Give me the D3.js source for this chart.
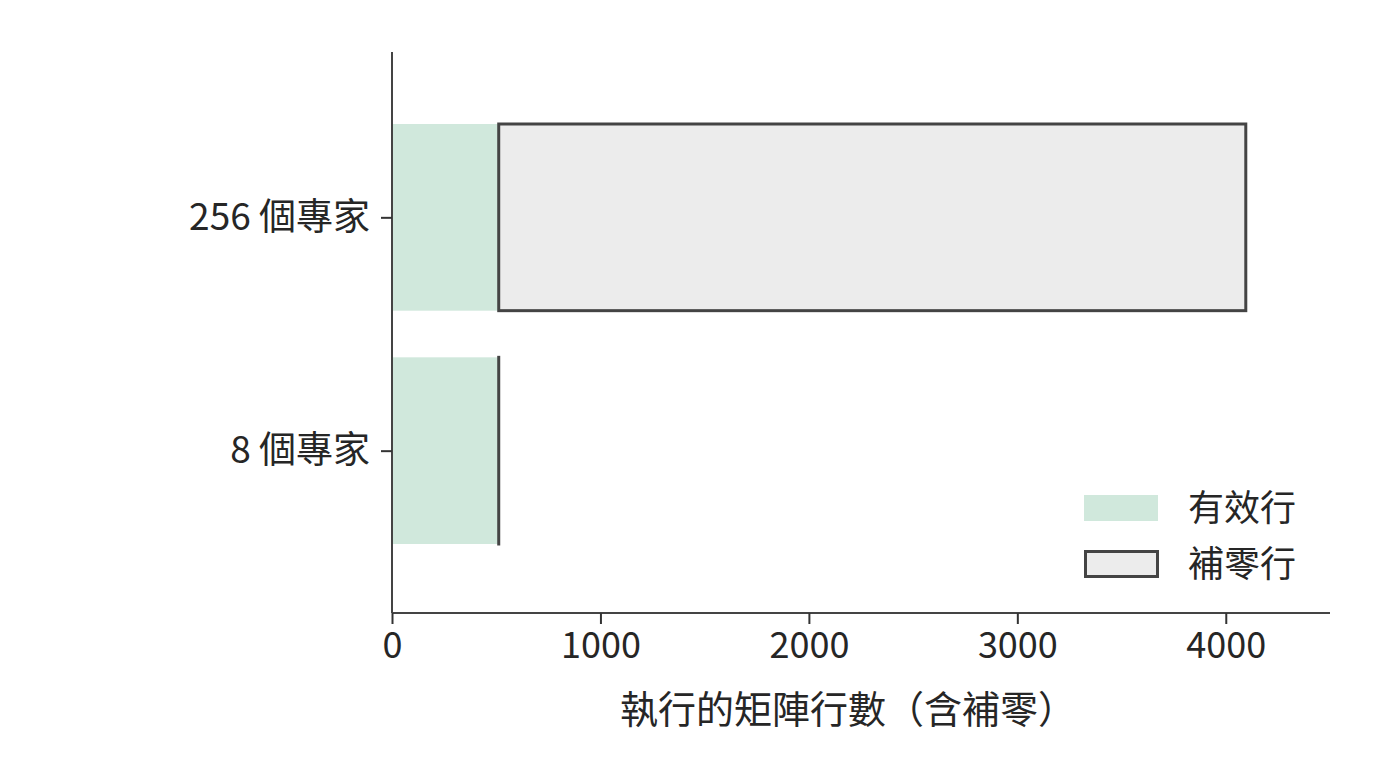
<!DOCTYPE html>
<html>
<head>
<meta charset="utf-8">
<script src="https://cdn.jsdelivr.net/npm/d3@7"></script>
<style>
  body { margin: 0; background: #fff; }
  text { font-family: "Noto Sans CJK TC", "Noto Sans", sans-serif; fill: #262626; }
</style>
</head>
<body>
<svg width="1400" height="768"></svg>
<script>
// data
var categories = ["8 個專家", "256 個專家"];
var effectiveRows = [512, 512];
var paddingRows = [0, 3584];
var xTicks = [0, 1000, 2000, 3000, 4000];
var legendLabels = ["有效行", "補零行"];
var xLabel = "執行的矩陣行數（含補零）";

var plotLeft = 392, plotRight = 1330, plotTop = 52, plotBottom = 613;
var svg = d3.select("svg");

var x = d3.scaleLinear().domain([0, 4500]).range([plotLeft, plotRight]);
var y = d3.scaleLinear().domain([-0.7, 1.7]).range([614, 54]);
var barH = y(0) - y(0.8);

var rows = categories.map(function (c, i) {
  return { name: c, idx: i, eff: effectiveRows[i], pad: paddingRows[i] };
});

// effective bars
svg.append("g").selectAll("rect")
  .data(rows)
  .enter()
  .append("rect")
  .attr("x", x(0))
  .attr("y", function (d) { return y(d.idx) - barH / 2; })
  .attr("width", function (d) { return x(d.eff) - x(0); })
  .attr("height", barH)
  .style("fill", "#d0e8dc");

// padding bars (zero width still shows its edge)
svg.append("g").selectAll("rect")
  .data(rows)
  .enter()
  .append("rect")
  .attr("x", function (d) { return x(d.eff); })
  .attr("y", function (d) { return y(d.idx) - barH / 2; })
  .attr("width", function (d) { return Math.max(x(d.eff + d.pad) - x(d.eff), 0.01); })
  .attr("height", barH)
  .style("fill", "#ececec")
  .style("stroke", "#444")
  .style("stroke-width", 3);

// axes
var xAxis = d3.axisBottom(x).tickValues(xTicks).tickFormat(d3.format("d"))
  .tickSizeOuter(0).tickSize(11).tickPadding(8);
var yAxis = d3.axisLeft(y).tickValues([0, 1])
  .tickFormat(function (d) { return categories[d]; })
  .tickSizeOuter(0).tickSize(11).tickPadding(11);

var gx = svg.append("g")
  .attr("transform", "translate(0," + plotBottom + ")")
  .call(xAxis);
var gy = svg.append("g")
  .attr("transform", "translate(" + plotLeft + ",0)")
  .call(yAxis);

[gx, gy].forEach(function (g) {
  g.select(".domain").style("stroke", "#444").style("stroke-width", 2);
  g.selectAll(".tick line").style("stroke", "#333").style("stroke-width", 2);
  g.selectAll(".tick text").style("font-size", "36px").style("fill", "#262626");
});
gy.selectAll(".tick text").style("font-size", "37px");
gy.select(".domain").attr("d", "M0," + plotBottom + "V" + plotTop);
gx.select(".domain").attr("d", "M" + plotLeft + ",0H" + plotRight);

svg.append("text")
  .attr("x", 848)
  .attr("y", 723)
  .attr("text-anchor", "middle")
  .style("font-size", "38px")
  .text(xLabel);

// legend
var legend = svg.append("g").attr("transform", "translate(1084,495)");
legend.append("rect")
  .attr("x", 0).attr("y", 0).attr("width", 74).attr("height", 26)
  .style("fill", "#d0e8dc");
legend.append("rect")
  .attr("x", 1.5).attr("y", 56.5).attr("width", 72).attr("height", 25)
  .style("fill", "#ececec").style("stroke", "#444").style("stroke-width", 3);
legend.selectAll("text")
  .data(legendLabels)
  .enter()
  .append("text")
  .attr("x", 104)
  .attr("y", function (d, i) { return 13 + i * 56; })
  .attr("dy", "0.35em")
  .style("font-size", "36px")
  .text(function (d) { return d; });
</script>
</body>
</html>
